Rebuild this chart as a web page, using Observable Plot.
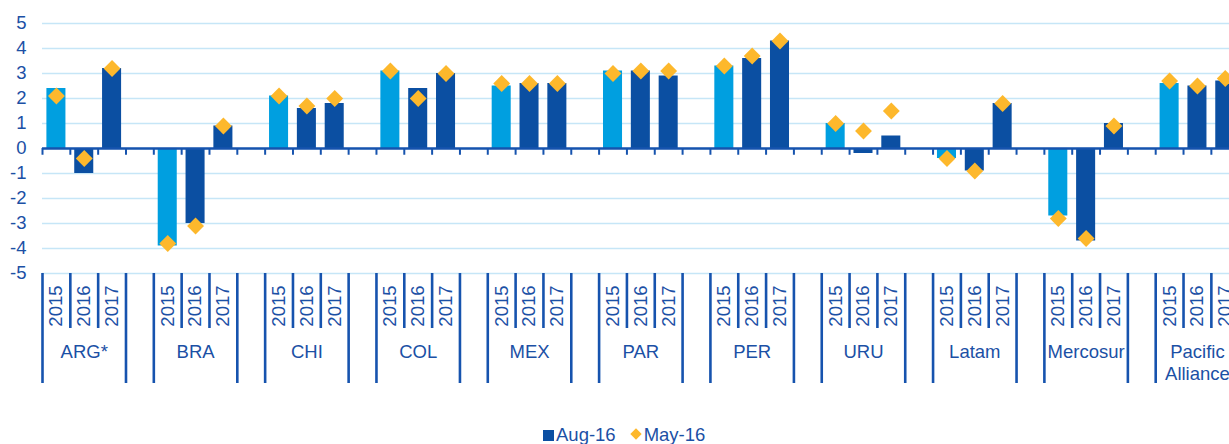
<!DOCTYPE html>
<html>
<head>
<meta charset="utf-8">
<script src="https://cdn.jsdelivr.net/npm/d3@7"></script>
<script src="https://cdn.jsdelivr.net/npm/@observablehq/plot@0.6"></script>
<style>
  html, body { margin: 0; padding: 0; background: #fff; overflow: hidden; width: 1229px; height: 444px; }
  #chart svg { display: block; }
  #legend { font-family: "Liberation Sans", Arial, sans-serif; font-size: 18.5px; color: #1B50A5; height: 24px; line-height: 24px; padding-top: 3px; padding-left: 543px; white-space: nowrap; }
  #legend .sq { display: inline-block; width: 11px; height: 11px; background: #0B4FA2; vertical-align: 0px; margin-right: 2px; }
  #legend .dm { display: inline-block; width: 8px; height: 8px; background: #FDB82C; transform: rotate(45deg); vertical-align: 3px; margin: 0 4px 0 16px; }
</style>
</head>
<body>
<div id="chart"></div>
<div id="legend"><span class="sq"></span>Aug-16<span class="dm"></span>May-16</div>
<script>
const groups = ["ARG*", "BRA", "CHI", "COL", "MEX", "PAR", "PER", "URU", "Latam", "Mercosur", "Pacific\nAlliance"];
const years = ["2015", "2016", "2017"];
const aug16 = [2.4, -1.0, 3.2, -3.9, -3.0, 0.9, 2.1, 1.6, 1.8, 3.1, 2.4, 3.0, 2.5, 2.6, 2.6, 3.1, 3.1, 2.9, 3.3, 3.6, 4.3, 1.0, -0.2, 0.5, -0.4, -0.9, 1.8, -2.7, -3.7, 1.0, 2.6, 2.5, 2.7];
const may16 = [2.1, -0.4, 3.2, -3.8, -3.1, 0.9, 2.1, 1.7, 2.0, 3.1, 2.0, 3.0, 2.6, 2.6, 2.6, 3.0, 3.1, 3.1, 3.3, 3.7, 4.3, 1.0, 0.7, 1.5, -0.4, -0.9, 1.8, -2.8, -3.6, 0.9, 2.7, 2.5, 2.8];
const yTicks = [-5, -4, -3, -2, -1, 0, 1, 2, 3, 4, 5];

const lightBlue = "#009FE0";
const darkBlue = "#0B4FA2";
const gold = "#FDB82C";
const textBlue = "#1B50A5";
const lineBlue = "#1653AE";
const gridBlue = "#C6E6F7";

const slotsPerGroup = years.length + 1;
const nSlots = groups.length * slotsPerGroup;
const rows = [];
groups.forEach((g, gi) => years.forEach((y, yi) => {
  const k = gi * years.length + yi;
  rows.push({group: g, year: y, slot: gi * slotsPerGroup + yi, aug: aug16[k], may: may16[k]});
}));
const yearTicks = rows.map(d => d.slot + 0.5);
const yearLabel = new Map(rows.map(d => [d.slot + 0.5, d.year]));
const groupTicks = groups.map((g, gi) => gi * slotsPerGroup + years.length / 2);
const groupLabel = new Map(groups.map((g, gi) => [gi * slotsPerGroup + years.length / 2, g]));
const groupEdges = groups.flatMap((g, gi) => [gi * slotsPerGroup, gi * slotsPerGroup + years.length]);
const yearEdges = groups.flatMap((g, gi) => d3.range(1, years.length).map(j => gi * slotsPerGroup + j));
const slotEdges = d3.range(0, nSlots + 1);

const chart = Plot.plot({
  width: 1229,
  height: 420,
  marginLeft: 42,
  marginTop: 23,
  marginBottom: 147,
  marginRight: 0,
  style: {fontFamily: "'Liberation Sans', Arial, sans-serif", fontSize: "18.5px", background: "white"},
  x: {domain: [0, nSlots], range: [42, 42 + nSlots * 27.83], axis: null},
  y: {domain: [-5, 5], axis: null},
  marks: [
    Plot.ruleY(yTicks, {x1: 0, x2: nSlots, stroke: gridBlue, strokeWidth: 1.6}),
    Plot.rect(rows, {x1: "slot", x2: d => d.slot + 1, y1: 0, y2: "aug", insetLeft: 4.4, insetRight: 4.4,
      fill: d => d.year === years[0] ? lightBlue : darkBlue}),
    Plot.ruleY([0], {x1: 0, x2: nSlots, stroke: lineBlue, strokeWidth: 2.6}),
    Plot.ruleX(slotEdges, {y1: 0, y2: -0.27, stroke: lineBlue, strokeWidth: 2}),
    Plot.dot(rows, {x: d => d.slot + 0.5, y: "may", symbol: "diamond2", r: 7.6, fill: gold}),
    Plot.axisY(yTicks, {anchor: "left", label: null, tickSize: 0, tickPadding: 16, tickFormat: d => String(d), fontSize: 18.5, color: textBlue}),
    Plot.axisX(groupEdges, {anchor: "bottom", label: null, tickSize: 110, strokeWidth: 2.6, tickFormat: () => "", color: lineBlue}),
    Plot.axisX(yearEdges, {anchor: "bottom", label: null, tickSize: 55, strokeWidth: 2.6, tickFormat: () => "", color: lineBlue}),
    Plot.axisX(yearTicks, {anchor: "bottom", label: null, tickSize: 0, tickPadding: 12, tickRotate: -90, tickFormat: d => yearLabel.get(d), fontSize: 18.5, color: textBlue}),
    Plot.axisX(groupTicks, {anchor: "bottom", label: null, tickSize: 0, tickPadding: 69, tickFormat: d => groupLabel.get(d), fontSize: 18.5, lineHeight: 1.2, color: textBlue})
  ]
});
document.getElementById("chart").appendChild(chart);
</script>
</body>
</html>
